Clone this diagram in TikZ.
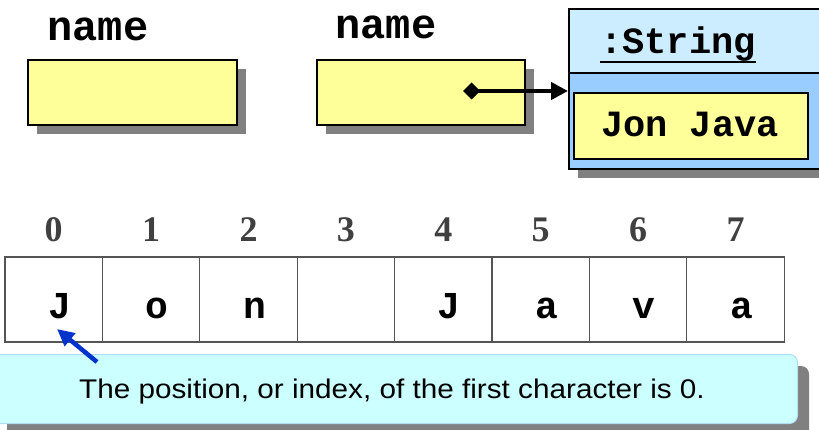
\documentclass[tikz,border=0pt]{standalone}
\usepackage{fontspec}
\usetikzlibrary{arrows.meta}
\newfontfamily\monofnt{Liberation Mono}
\newfontfamily\digfnt{Liberation Serif}
\newfontfamily\handfnt[FakeStretch=1.1]{Liberation Sans}
\definecolor{boxyellow}{HTML}{FFFF99}
\definecolor{shadowgray}{HTML}{808080}
\definecolor{strtop}{HTML}{CCECFF}
\definecolor{strbot}{HTML}{99CCFF}
\definecolor{calloutfill}{HTML}{CCFFFF}
\definecolor{calloutline}{HTML}{B0DCF8}
\definecolor{gridline}{HTML}{555555}
\definecolor{digitgray}{HTML}{404040}
\definecolor{pointblue}{HTML}{0033CC}
\tikzset{
  varbox/.style={draw=black, line width=1.6pt, fill=boxyellow},
  namelabel/.style={font=\monofnt\bfseries\fontsize{42}{46}\selectfont, inner sep=0pt, anchor=base},
  strtext/.style={font=\monofnt\bfseries\fontsize{37}{40}\selectfont, inner sep=0pt, anchor=base},
  cellbox/.style={draw=gridline, line width=1.3pt, minimum width=97.4pt, minimum height=85pt, inner sep=0pt, outer sep=0pt},
  letter/.style={font=\monofnt\bfseries\fontsize{38}{40}\selectfont, inner sep=0pt, anchor=base},
  digit/.style={font=\digfnt\bfseries\fontsize{36}{40}\selectfont, text=digitgray, inner sep=0pt, anchor=base},
}
\begin{document}
\begin{tikzpicture}[x=1pt,y=-1pt]
\useasboundingbox (0,0) rectangle (819,430);
\clip (0,0) rectangle (819,430);

% variable boxes
\fill[shadowgray] (37,69) rectangle (246,134);
\node[varbox, minimum width=209pt, minimum height=65pt, inner sep=0pt, anchor=north west] (var1) at (27,59) {};
\node[namelabel] (name1) at (98,41) {name};

\fill[shadowgray] (326,69) rectangle (534,134);
\node[varbox, minimum width=208pt, minimum height=65pt, inner sep=0pt, anchor=north west] (var2) at (316,59) {};
\node[namelabel] (name2) at (386,39) {name};

% String object
\fill[shadowgray] (578,18) rectangle (850,178);
\node[draw=black, line width=1.6pt, fill=strtop, minimum width=272pt, minimum height=64pt, inner sep=0pt, anchor=north west] (strhead) at (568,8) {};
\node[draw=black, line width=1.6pt, fill=strbot, minimum width=272pt, minimum height=96pt, inner sep=0pt, anchor=north west] (strbody) at (568,72) {};
\node[strtext] (strname) at (678,54) {:String};
\draw[line width=2.6pt] (strname.base west |- 0,62) -- (strname.base east |- 0,62);
\node[varbox, minimum width=234pt, minimum height=66pt, inner sep=0pt, anchor=north west] (strval) at (573,92) {};
\node[strtext] (strvaltext) at (690,137) {Jon Java};

% reference arrow
\coordinate (refstart) at (463,91);
\draw[line width=4.5pt, {Diamond[length=17pt,width=17pt]}-{Triangle[length=17pt,width=17pt]}]
  (refstart) -- (refstart -| strbody.west);

% character array
\foreach \i/\ch in {0/J,1/o,2/n,3/{},4/J,5/a,6/v,7/a}{
  \node[cellbox, anchor=north west] (cell\i) at ({5+97.4*\i},257) {};
  \node[digit] (dig\i) at ({53.7+97.4*\i},242) {\i};
  \node[letter] (let\i) at ({59.7+97.4*\i},318) {\ch};
}

% callout
\fill[shadowgray, rounded corners=8pt] (7,366) rectangle (809,440);
\node[fill=calloutfill, draw=calloutline, line width=1pt, rounded corners=8pt,
      minimum width=807pt, minimum height=69pt, inner sep=0pt, anchor=north west] (callout) at (-10,354) {};
\node[font=\handfnt\fontsize{27}{30}\selectfont, inner sep=0pt, anchor=base] (calltext) at (392,398)
  {The position, or index, of the first character is 0.};

% pointer arrow
\coordinate (ptail) at (97,362);
\coordinate (phead) at (57,329);
\draw[pointblue, line width=4.5pt, -{Triangle[length=17pt,width=16pt]}] (ptail) -- (phead);
\end{tikzpicture}
\end{document}
